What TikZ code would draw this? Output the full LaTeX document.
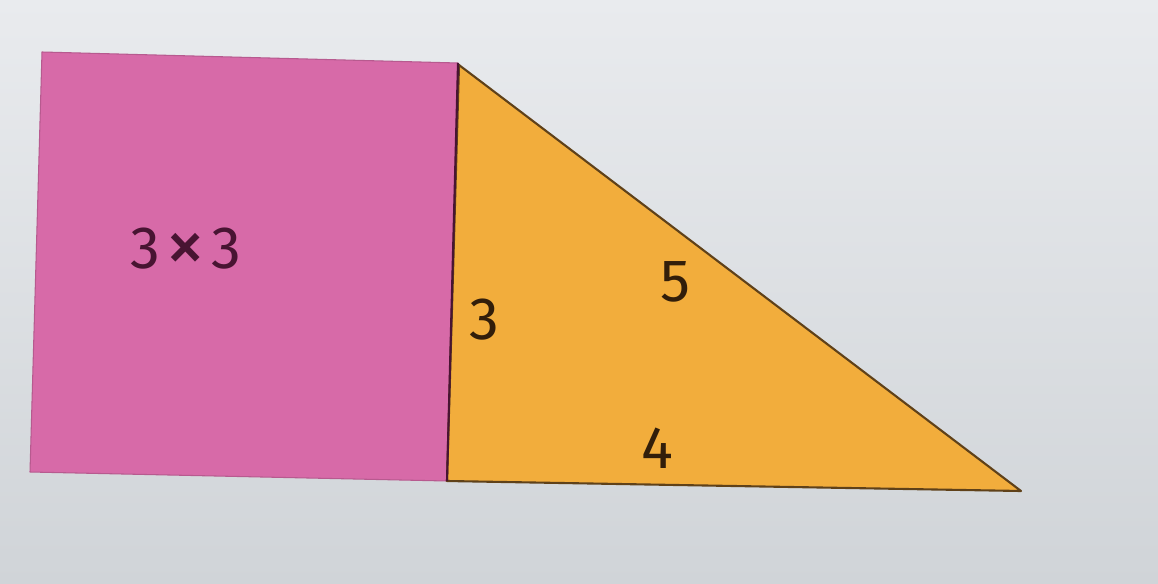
\documentclass[tikz,border=0pt]{standalone}
\usepackage{fontspec}
\setmainfont{Fira Sans}
\usepackage{xcolor}
\usetikzlibrary{calc}
\definecolor{boardtop}{RGB}{233,235,238}
\definecolor{boardbot}{RGB}{208,212,216}
\definecolor{paperpink}{RGB}{215,106,168}
\definecolor{paperorange}{RGB}{242,173,60}
\definecolor{inkpurple}{RGB}{72,20,50}
\definecolor{inkbrown}{RGB}{50,30,10}
\definecolor{edgebrown}{RGB}{95,65,25}
\tikzset{
  sheet/.style={line join=round, line width=0.6pt},
  pinksheet/.style={sheet, fill=paperpink, draw=paperpink!85!black},
  orangesheet/.style={sheet, fill=paperorange, draw=edgebrown, line width=1.2pt},
  crease/.style={draw=inkpurple, line width=1.2pt},
  digit/.style={font=\fontsize{34}{34}\selectfont, text=inkbrown, inner sep=0pt},
}
\begin{document}
\begin{tikzpicture}[x=0.02cm, y=-0.02cm]
  % board
  \shade[top color=boardtop, bottom color=boardbot] (0,0) rectangle (1158,584);
  \useasboundingbox (0,0) rectangle (1158,584);
  % corners of the two sheets
  \coordinate (sqtl) at (42,52);
  \coordinate (sqtr) at (458,63);
  \coordinate (sqbr) at (447,481);
  \coordinate (sqbl) at (30,472);
  \coordinate (trtop) at (459,65);
  \coordinate (trbot) at (447,481);
  \coordinate (trtip) at (1021,491);
  \draw[pinksheet] (sqtl) -- (sqtr) -- (sqbr) -- (sqbl) -- cycle;
  \draw[orangesheet] (trtop) -- (trtip) -- (trbot) -- cycle;
  \draw[crease] (sqtr) -- (sqbr);
  % labels
  \node[digit, text=inkpurple] (area) at (186,250)
    {3\hspace{3pt}\raisebox{-2pt}{\scalebox{1.35}{×}}\hspace{3pt}3};
  \node[digit] (side3) at (484,320) {3};
  \node[digit] (side5) at (675,282) {5};
  \node[digit] (side4) at (657,448) {4};
\end{tikzpicture}
\end{document}
